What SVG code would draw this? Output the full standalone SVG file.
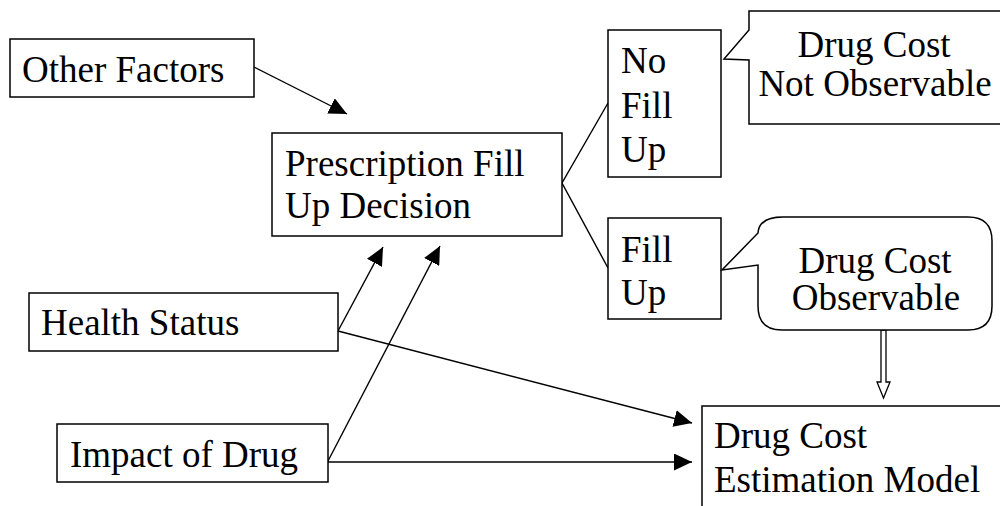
<svg xmlns="http://www.w3.org/2000/svg" width="1000" height="506" viewBox="0 0 1000 506">
<style>
.box{fill:#fff;stroke:#000;stroke-width:1.5}
.t{font-family:'Liberation Serif','Times New Roman',Tinos,'DejaVu Serif',serif;font-size:37px;fill:#000}
.c{text-anchor:middle}
.ln{stroke:#000;stroke-width:1.4;fill:none}
</style>
<defs>
<marker id="ah" markerUnits="userSpaceOnUse" markerWidth="18" markerHeight="17" refX="18" refY="8.5" orient="auto">
<path d="M0,0 L18,8.5 L0,17 z" fill="#000"/>
</marker>
</defs>
<rect width="1000" height="506" fill="#fff"/>
<g id="connectors">
<line class="ln" x1="254" y1="67" x2="347" y2="114" marker-end="url(#ah)"/>
<line class="ln" x1="338" y1="331" x2="383" y2="247" marker-end="url(#ah)"/>
<line class="ln" x1="328" y1="461" x2="440" y2="246" marker-end="url(#ah)"/>
<line class="ln" x1="338" y1="331" x2="692" y2="423" marker-end="url(#ah)"/>
<line class="ln" x1="328" y1="462" x2="692" y2="462" marker-end="url(#ah)"/>
<polyline class="ln" points="608,103 562,183 608,268"/>
<polygon points="881,330 886,330 886,382 890,382 883.5,398 877,382 881,382" fill="#fff" stroke="#000" stroke-width="1.3"/>
</g>
<g id="other-factors">
<rect class="box" x="10" y="39" width="244" height="58"/>
<text class="t" font-family="Liberation Serif, serif" x="22" y="82">Other Factors</text>
</g>
<g id="prescription">
<rect class="box" x="272" y="133" width="290" height="103"/>
<text class="t" x="285" y="176">Prescription Fill</text>
<text class="t" x="285" y="218">Up Decision</text>
</g>
<g id="no-fill-up">
<rect class="box" x="608" y="30" width="113" height="147"/>
<text class="t" x="621" y="73">No</text>
<text class="t" x="621" y="118">Fill</text>
<text class="t" x="621" y="162">Up</text>
</g>
<g id="fill-up">
<rect class="box" x="608" y="218" width="113" height="101"/>
<text class="t" x="621" y="262">Fill</text>
<text class="t" x="621" y="305">Up</text>
</g>
<g id="not-observable">
<path class="box" d="M749,11 L1010,11 L1010,124 L749,124 L749,60 L724,59 L749,30 Z"/>
<text class="t c" x="874" y="57">Drug Cost</text>
<text class="t c" x="875" y="96">Not Observable</text>
</g>
<g id="observable">
<path class="box" d="M783,217 L968,217 Q992,217 992,241 L992,306 Q992,330 968,330 L782,330 Q758,330 758,306 L758,265 L722,270 L758,233 Q759,217 783,217 Z"/>
<text class="t c" x="875" y="273">Drug Cost</text>
<text class="t c" x="876" y="310">Observable</text>
</g>
<g id="health-status">
<rect class="box" x="29" y="293" width="309" height="58"/>
<text class="t" x="41" y="335">Health Status</text>
</g>
<g id="impact-of-drug">
<rect class="box" x="57" y="424" width="271" height="58"/>
<text class="t" x="70" y="467">Impact of Drug</text>
</g>
<g id="estimation-model">
<rect class="box" x="702" y="406" width="320" height="130"/>
<text class="t" x="714" y="448">Drug Cost</text>
<text class="t" x="714" y="492">Estimation Model</text>
</g>
</svg>
